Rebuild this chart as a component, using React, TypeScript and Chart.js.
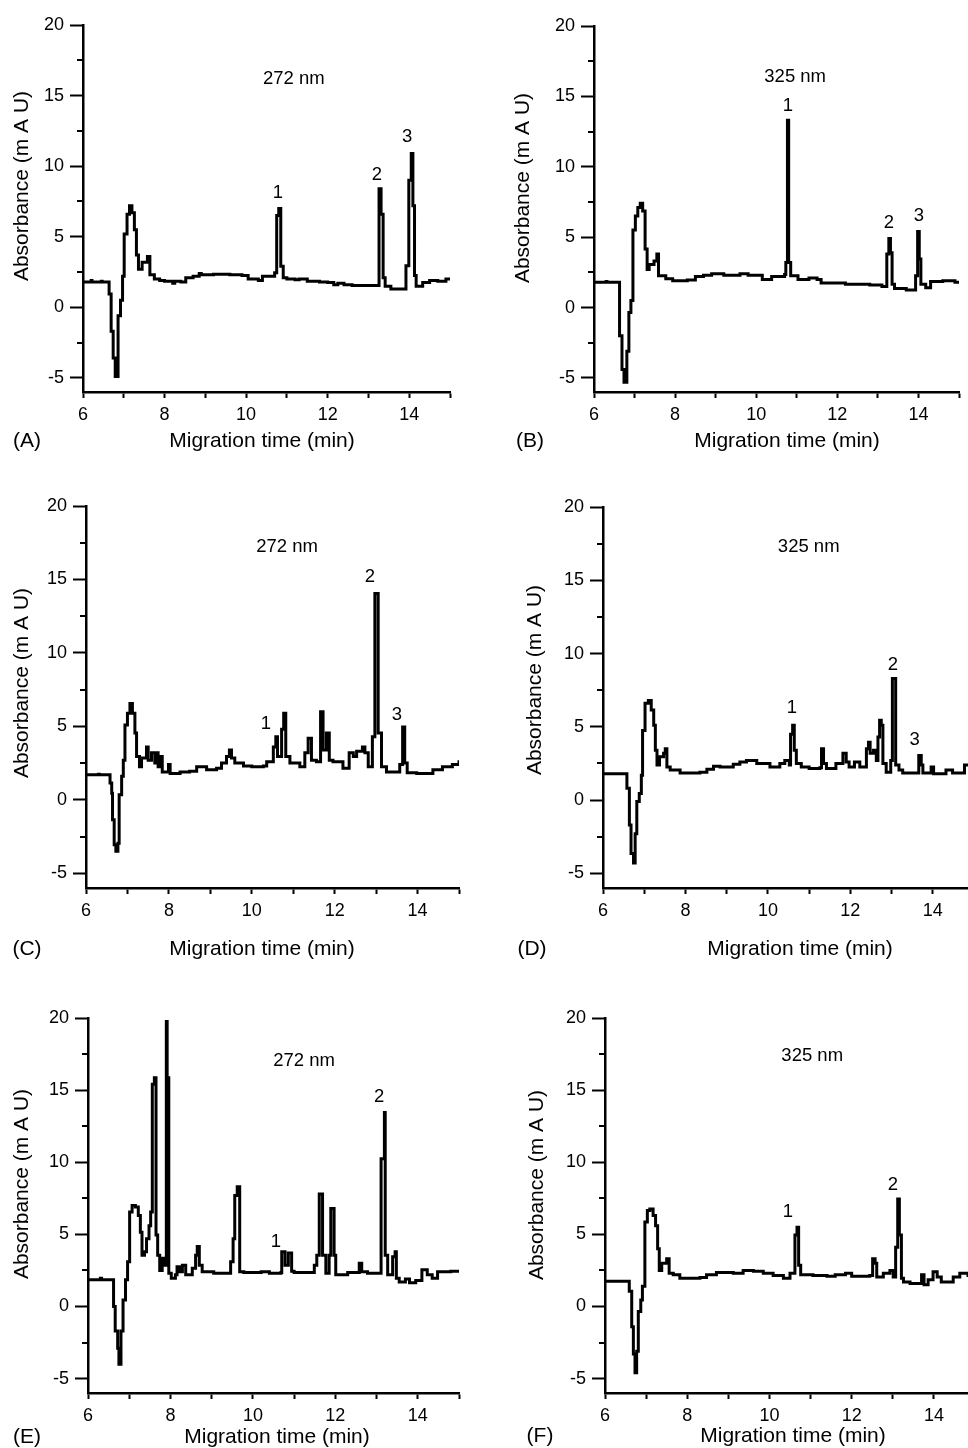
import React, { useEffect, useRef } from "react";
import { Chart, registerables } from "chart.js";
Chart.register(...registerables);

const FONT = "'Liberation Sans', Arial, Helvetica, sans-serif";

const xTicks = [6, 7, 8, 9, 10, 11, 12, 13, 14, 15];
const xLabelTicks = [6, 8, 10, 12, 14];
const yTicks = [-5, 0, 5, 10, 15, 20];
const yMinorTicks = [-2.5, 2.5, 7.5, 12.5, 17.5];

// [migration time (min), absorbance (mAU)] — step trace
const traceA: [number, number][] = [
  [6.0, 1.8], [6.2, 1.9], [6.22, 1.8], [6.45, 1.85], [6.47, 1.8], [6.64, 0.95], [6.69, -1.7], [6.74, -3.6],
  [6.79, -4.9], [6.86, -0.6], [6.92, 0.5], [6.97, 2.2], [7.01, 5.2], [7.08, 6.6], [7.14, 7.2], [7.2, 6.7],
  [7.26, 5.5], [7.31, 3.7], [7.36, 2.7], [7.45, 3.2], [7.58, 3.6], [7.64, 2.3], [7.75, 2.0], [7.88, 1.9],
  [8.0, 1.85], [8.2, 1.7], [8.25, 1.85], [8.4, 1.8], [8.52, 2.1], [8.7, 2.2], [8.85, 2.4], [8.9, 2.3],
  [9.2, 2.35], [9.6, 2.3], [9.9, 2.25], [10.05, 2.0], [10.3, 1.9], [10.4, 2.2], [10.7, 2.45], [10.75, 6.5],
  [10.8, 7.0], [10.85, 2.9], [10.91, 2.1], [11.0, 2.0], [11.2, 1.95], [11.3, 2.0], [11.5, 1.85], [11.8, 1.8],
  [12.0, 1.75], [12.15, 1.6], [12.25, 1.7], [12.4, 1.6], [12.6, 1.55], [13.26, 8.4], [13.31, 6.6], [13.36, 2.1],
  [13.41, 1.5], [13.55, 1.3], [13.92, 2.95], [13.99, 9.0], [14.05, 10.9], [14.09, 7.2], [14.13, 2.25], [14.17, 1.5],
  [14.33, 1.75], [14.5, 1.9], [14.7, 1.85], [14.9, 2.0], [15.0, 2.0],
];

const traceB: [number, number][] = [
  [6.0, 1.8], [6.3, 1.85], [6.32, 1.8], [6.63, -2.0], [6.69, -4.4], [6.74, -5.3], [6.81, -3.1], [6.86, -0.35],
  [6.91, 0.5], [6.96, 5.5], [7.02, 6.5], [7.08, 7.1], [7.14, 7.4], [7.2, 6.85], [7.26, 4.15], [7.31, 2.7],
  [7.36, 3.05], [7.48, 3.3], [7.55, 3.8], [7.59, 2.25], [7.77, 2.05], [7.94, 1.9], [8.3, 1.95], [8.5, 2.2],
  [8.7, 2.3], [8.9, 2.4], [9.2, 2.3], [9.6, 2.4], [9.8, 2.3], [10.15, 2.0], [10.38, 2.2], [10.7, 2.35],
  [10.73, 3.2], [10.77, 13.3], [10.8, 3.2], [10.85, 2.25], [11.03, 2.0], [11.3, 2.1], [11.5, 2.0], [11.6, 1.75],
  [12.2, 1.65], [12.8, 1.6], [13.1, 1.5], [13.22, 3.8], [13.27, 4.9], [13.31, 3.9], [13.35, 1.65], [13.41, 1.35],
  [13.7, 1.25], [13.93, 2.25], [13.98, 5.4], [14.02, 3.45], [14.06, 1.65], [14.18, 1.4], [14.3, 1.85], [14.6, 1.9],
  [14.9, 1.8], [15.0, 1.9],
];

const traceC: [number, number][] = [
  [6.0, 1.7], [6.3, 1.75], [6.32, 1.7], [6.58, 1.15], [6.62, 0.45], [6.64, -1.35], [6.68, -3.05], [6.72, -3.5],
  [6.77, -2.95], [6.8, 0.35], [6.86, 1.6], [6.9, 2.7], [6.94, 5.1], [7.0, 5.9], [7.06, 6.55], [7.12, 5.9],
  [7.18, 4.55], [7.22, 2.95], [7.29, 2.25], [7.34, 2.85], [7.46, 3.6], [7.5, 2.7], [7.58, 3.2], [7.66, 2.5],
  [7.7, 3.2], [7.74, 2.25], [7.78, 2.95], [7.84, 1.9], [7.99, 2.4], [8.03, 1.8], [8.27, 1.9], [8.5, 1.95],
  [8.67, 2.25], [8.91, 2.05], [9.15, 2.15], [9.27, 2.5], [9.39, 2.95], [9.46, 3.4], [9.51, 2.85], [9.59, 2.5],
  [9.8, 2.3], [10.0, 2.25], [10.28, 2.3], [10.36, 2.6], [10.52, 3.6], [10.58, 4.3], [10.62, 2.95], [10.72, 4.8],
  [10.77, 5.9], [10.82, 2.95], [10.92, 2.5], [11.16, 2.25], [11.28, 3.2], [11.36, 4.2], [11.44, 2.7], [11.56, 2.6],
  [11.66, 6.0], [11.72, 3.4], [11.8, 4.55], [11.87, 2.7], [11.96, 2.6], [12.2, 2.15], [12.35, 3.2], [12.45, 2.95],
  [12.53, 3.3], [12.67, 3.6], [12.73, 3.2], [12.81, 2.25], [12.91, 4.3], [12.97, 14.05], [13.05, 4.55], [13.13, 2.25],
  [13.25, 1.9], [13.57, 2.4], [13.64, 4.95], [13.69, 2.5], [13.75, 1.85], [13.98, 1.8], [14.3, 1.8], [14.37, 2.05],
  [14.6, 2.25], [14.84, 2.4], [15.0, 2.7],
];

const traceD: [number, number][] = [
  [6.0, 1.8], [6.58, 0.8], [6.64, -1.7], [6.68, -3.65], [6.74, -4.3], [6.78, -2.3], [6.82, -0.1], [6.88, 0.45],
  [6.93, 1.7], [6.96, 4.75], [7.02, 6.6], [7.1, 6.8], [7.17, 6.15], [7.23, 5.1], [7.27, 3.4], [7.31, 2.4],
  [7.37, 2.95], [7.47, 3.2], [7.51, 3.5], [7.55, 2.25], [7.63, 2.05], [7.87, 1.85], [8.35, 1.9], [8.52, 2.1],
  [8.68, 2.3], [8.84, 2.25], [9.16, 2.45], [9.32, 2.6], [9.48, 2.7], [9.73, 2.5], [10.05, 2.25], [10.29, 2.5],
  [10.41, 2.7], [10.52, 2.4], [10.55, 4.5], [10.6, 5.1], [10.64, 3.4], [10.69, 2.5], [10.81, 2.25], [11.0, 2.15],
  [11.26, 2.2], [11.3, 3.5], [11.35, 2.5], [11.42, 2.15], [11.65, 2.5], [11.82, 3.2], [11.9, 2.6], [11.97, 2.25],
  [12.1, 2.6], [12.23, 2.25], [12.39, 3.5], [12.44, 3.95], [12.48, 3.2], [12.56, 3.4], [12.63, 2.7], [12.67, 4.3],
  [12.71, 5.45], [12.75, 5.1], [12.79, 2.5], [12.87, 1.9], [12.98, 2.7], [13.02, 8.3], [13.1, 2.4], [13.18, 2.05],
  [13.27, 1.85], [13.66, 3.05], [13.72, 2.4], [13.76, 1.85], [13.96, 2.25], [14.02, 1.8], [14.32, 2.05], [14.48, 1.85],
  [14.77, 2.4], [15.0, 2.4],
];

const traceE: [number, number][] = [
  [6.0, 1.85], [6.3, 1.95], [6.33, 1.85], [6.62, 0.0], [6.66, -1.7], [6.72, -2.9], [6.75, -4.0], [6.8, -1.7],
  [6.85, 0.45], [6.91, 1.85], [6.96, 3.1], [7.01, 6.55], [7.07, 7.0], [7.15, 6.9], [7.22, 6.3], [7.27, 5.15],
  [7.31, 3.55], [7.37, 3.8], [7.42, 4.7], [7.48, 5.6], [7.52, 6.55], [7.56, 15.4], [7.61, 15.85], [7.65, 4.95],
  [7.69, 3.55], [7.74, 2.5], [7.8, 3.35], [7.86, 2.85], [7.9, 19.75], [7.92, 15.85], [7.96, 2.3], [8.02, 1.95],
  [8.12, 2.2], [8.16, 2.75], [8.23, 2.4], [8.29, 2.85], [8.37, 2.2], [8.53, 2.65], [8.61, 3.55], [8.65, 4.15],
  [8.7, 2.85], [8.77, 2.4], [9.05, 2.3], [9.38, 2.3], [9.46, 3.1], [9.52, 4.7], [9.56, 7.7], [9.62, 8.3],
  [9.68, 2.4], [9.78, 2.35], [10.2, 2.4], [10.4, 2.3], [10.68, 2.35], [10.7, 3.8], [10.78, 2.85], [10.86, 3.7],
  [10.94, 2.45], [11.0, 2.35], [11.4, 2.35], [11.49, 2.85], [11.55, 3.55], [11.61, 7.8], [11.69, 3.55], [11.77, 2.3],
  [11.85, 3.55], [11.89, 6.8], [11.97, 3.55], [12.01, 2.2], [12.3, 2.35], [12.54, 2.35], [12.58, 3.0], [12.64, 2.4],
  [12.78, 2.3], [13.07, 2.3], [13.11, 10.25], [13.19, 13.45], [13.21, 3.55], [13.27, 2.2], [13.39, 3.45], [13.45, 3.8],
  [13.48, 1.95], [13.55, 1.7], [13.7, 1.9], [13.8, 1.65], [13.95, 1.8], [14.1, 2.55], [14.23, 2.2], [14.35, 1.95],
  [14.48, 2.4], [14.8, 2.45], [15.0, 2.5],
];

const traceF: [number, number][] = [
  [6.0, 1.75], [6.59, 1.05], [6.65, -1.4], [6.69, -3.3], [6.73, -4.6], [6.77, -3.1], [6.81, -0.35], [6.87, 0.45],
  [6.91, 1.4], [6.97, 5.85], [7.03, 6.65], [7.09, 6.75], [7.17, 6.3], [7.23, 5.6], [7.28, 4.0], [7.32, 2.5],
  [7.38, 3.0], [7.5, 3.3], [7.56, 2.3], [7.66, 2.2], [7.82, 1.95], [8.31, 2.0], [8.47, 2.2], [8.71, 2.35],
  [9.12, 2.3], [9.36, 2.5], [9.61, 2.45], [9.85, 2.3], [10.09, 2.15], [10.34, 1.95], [10.5, 2.3], [10.62, 4.95],
  [10.67, 5.5], [10.71, 2.85], [10.76, 2.2], [11.06, 2.15], [11.4, 2.1], [11.6, 2.2], [11.85, 2.3], [12.0, 2.1],
  [12.44, 2.15], [12.51, 3.3], [12.57, 3.0], [12.61, 2.05], [12.77, 2.3], [12.93, 2.5], [13.01, 2.05], [13.07, 4.1],
  [13.12, 7.45], [13.16, 4.95], [13.21, 1.95], [13.26, 1.7], [13.42, 1.6], [13.7, 2.2], [13.76, 1.5], [13.86, 1.85],
  [13.98, 2.4], [14.08, 2.05], [14.18, 1.7], [14.47, 2.05], [14.63, 2.3], [14.83, 2.15], [15.0, 2.15],
];

// peak labels: [text, time, absorbance]
const peaksA: [string, number, number][] = [["1", 10.78, 8.1], ["2", 13.21, 9.4], ["3", 13.95, 12.1]];
const peaksB: [string, number, number][] = [["1", 10.78, 14.3], ["2", 13.27, 6.0], ["3", 14.01, 6.5]];
const peaksC: [string, number, number][] = [["1", 10.34, 5.2], ["2", 12.85, 15.2], ["3", 13.5, 5.8]];
const peaksD: [string, number, number][] = [["1", 10.58, 6.3], ["2", 13.03, 9.2], ["3", 13.56, 4.1]];
const peaksE: [string, number, number][] = [["1", 10.56, 4.5], ["2", 13.06, 14.5]];
const peaksF: [string, number, number][] = [["1", 10.45, 6.55], ["2", 13.0, 8.4]];

// wavelength labels: [text, time, absorbance]
const waveA: [string, number, number] = ["272 nm", 11.17, 16.2];
const waveB: [string, number, number] = ["325 nm", 10.96, 16.4];
const waveC: [string, number, number] = ["272 nm", 10.85, 17.2];
const waveD: [string, number, number] = ["325 nm", 10.99, 17.3];
const waveE: [string, number, number] = ["272 nm", 11.24, 17.0];
const waveF: [string, number, number] = ["325 nm", 11.04, 17.4];

const X_TITLE = "Migration time (min)";
const Y_TITLE = "Absorbance (m A U)";

type Panel = {
  letter: string;
  canvas: { left: number; top: number; width: number; height: number };
  area: { l: number; t: number; r: number; b: number };
  yTitle: [number, number];
  xTitle: [number, number];
  letterPos: [number, number];
  trace: [number, number][];
  peaks: [string, number, number][];
  wave: [string, number, number];
};

const panels: Panel[] = [
  { letter: "(A)", canvas: { left: 0, top: 0, width: 484, height: 480 }, area: { l: 83, t: 25, r: 450, b: 392 },
    yTitle: [22, 186], xTitle: [262, 441], letterPos: [27, 441], trace: traceA, peaks: peaksA, wave: waveA },
  { letter: "(B)", canvas: { left: 484, top: 0, width: 484, height: 480 }, area: { l: 594, t: 26, r: 959, b: 392 },
    yTitle: [523, 188], xTitle: [787, 441], letterPos: [530, 441], trace: traceB, peaks: peaksB, wave: waveB },
  { letter: "(C)", canvas: { left: 0, top: 480, width: 484, height: 490 }, area: { l: 86, t: 506, r: 459, b: 888 },
    yTitle: [22, 683], xTitle: [262, 949], letterPos: [27, 949], trace: traceC, peaks: peaksC, wave: waveC },
  { letter: "(D)", canvas: { left: 484, top: 480, width: 500, height: 490 }, area: { l: 603, t: 507, r: 974, b: 888 },
    yTitle: [535, 680], xTitle: [800, 949], letterPos: [532, 949], trace: traceD, peaks: peaksD, wave: waveD },
  { letter: "(E)", canvas: { left: 0, top: 970, width: 484, height: 478 }, area: { l: 88, t: 1018, r: 459, b: 1393 },
    yTitle: [22, 1184], xTitle: [277, 1437], letterPos: [27, 1437], trace: traceE, peaks: peaksE, wave: waveE },
  { letter: "(F)", canvas: { left: 484, top: 970, width: 500, height: 478 }, area: { l: 605, t: 1018, r: 975, b: 1393 },
    yTitle: [537, 1185], xTitle: [793, 1436], letterPos: [540, 1436], trace: traceF, peaks: peaksF, wave: waveF },
];

const Y_AXIS_W = 40;
const X_AXIS_H = 30;

function PanelChart({ p }: { p: Panel }) {
  const ref = useRef<HTMLCanvasElement | null>(null);
  useEffect(() => {
    const canvas = ref.current;
    if (!canvas) return;
    const c = p.canvas;
    const a = p.area;
    const padding = {
      left: a.l - c.left - Y_AXIS_W,
      top: a.t - c.top,
      right: c.left + c.width - a.r,
      bottom: c.top + c.height - a.b - X_AXIS_H,
    };
    const decor = {
      id: "decor",
      afterDraw(chart: any) {
        const ctx = chart.ctx;
        const xs = chart.scales.x;
        const ys = chart.scales.y;
        const ca = chart.chartArea;
        ctx.save();
        // minor y ticks
        ctx.strokeStyle = "#000";
        ctx.lineWidth = 2;
        for (const v of yMinorTicks) {
          const py = Math.round(ys.getPixelForValue(v));
          ctx.beginPath();
          ctx.moveTo(ca.left - 6, py);
          ctx.lineTo(ca.left, py);
          ctx.stroke();
        }
        ctx.fillStyle = "#000";
        ctx.textAlign = "center";
        ctx.textBaseline = "middle";
        // wavelength + peak labels (data coordinates)
        ctx.font = `18.5px ${FONT}`;
        ctx.fillText(p.wave[0], xs.getPixelForValue(p.wave[1]), ys.getPixelForValue(p.wave[2]));
        for (const [txt, t, v] of p.peaks) {
          ctx.fillText(txt, xs.getPixelForValue(t), ys.getPixelForValue(v));
        }
        // titles
        ctx.font = `21px ${FONT}`;
        ctx.fillText(X_TITLE, p.xTitle[0] - c.left, p.xTitle[1] - c.top);
        ctx.fillText(p.letter, p.letterPos[0] - c.left, p.letterPos[1] - c.top);
        ctx.save();
        ctx.translate(p.yTitle[0] - c.left, p.yTitle[1] - c.top);
        ctx.rotate(-Math.PI / 2);
        ctx.fillText(Y_TITLE, 0, 0);
        ctx.restore();
        ctx.restore();
      },
    };
    const chart = new Chart(canvas, {
      type: "line",
      data: {
        datasets: [
          {
            data: p.trace.map(([x, y]) => ({ x, y })),
            borderColor: "#000",
            borderWidth: 3,
            pointRadius: 0,
            stepped: "before",
            fill: false,
          },
        ],
      },
      options: {
        animation: false,
        responsive: false,
        maintainAspectRatio: false,
        devicePixelRatio: 1,
        events: [],
        layout: { padding, autoPadding: false } as any,
        plugins: { legend: { display: false }, tooltip: { enabled: false } },
        scales: {
          x: {
            type: "linear",
            min: 6,
            max: 15,
            afterBuildTicks: (ax: any) => {
              ax.ticks = xTicks.map((v) => ({ value: v }));
            },
            afterFit: (ax: any) => {
              ax.height = X_AXIS_H;
              ax.paddingLeft = 0;
              ax.paddingRight = 0;
            },
            grid: { drawOnChartArea: false, drawTicks: true, tickLength: 6, tickWidth: 2, tickColor: "#000" },
            border: { display: true, width: 2.5, color: "#000" },
            ticks: {
              color: "#000",
              font: { family: FONT, size: 18 },
              padding: 6,
              maxRotation: 0,
              autoSkip: false,
              callback: (v: any) => (xLabelTicks.includes(Number(v)) ? String(v) : ""),
            },
          },
          y: {
            type: "linear",
            min: -6,
            max: 20,
            afterBuildTicks: (ax: any) => {
              ax.ticks = yTicks.map((v) => ({ value: v }));
            },
            afterFit: (ax: any) => {
              ax.width = Y_AXIS_W;
              ax.paddingTop = 0;
              ax.paddingBottom = 0;
            },
            grid: { drawOnChartArea: false, drawTicks: true, tickLength: 13, tickWidth: 2, tickColor: "#000" },
            border: { display: true, width: 2.5, color: "#000" },
            ticks: {
              color: "#000",
              font: { family: FONT, size: 18 },
              padding: 6,
              autoSkip: false,
              callback: (v: any) => String(v),
            },
          },
        },
      } as any,
      plugins: [decor],
    });
    return () => chart.destroy();
  }, [p]);
  return (
    <canvas
      ref={ref}
      width={p.canvas.width}
      height={p.canvas.height}
      style={{
        position: "absolute",
        left: p.canvas.left,
        top: p.canvas.top,
        width: p.canvas.width,
        height: p.canvas.height,
      }}
    />
  );
}

export default function App() {
  return (
    <div
      style={{
        position: "absolute",
        left: 0,
        top: 0,
        width: 968,
        height: 1448,
        overflow: "hidden",
        background: "#fff",
      }}
    >
      {panels.map((p) => (
        <PanelChart key={p.letter} p={p} />
      ))}
    </div>
  );
}
